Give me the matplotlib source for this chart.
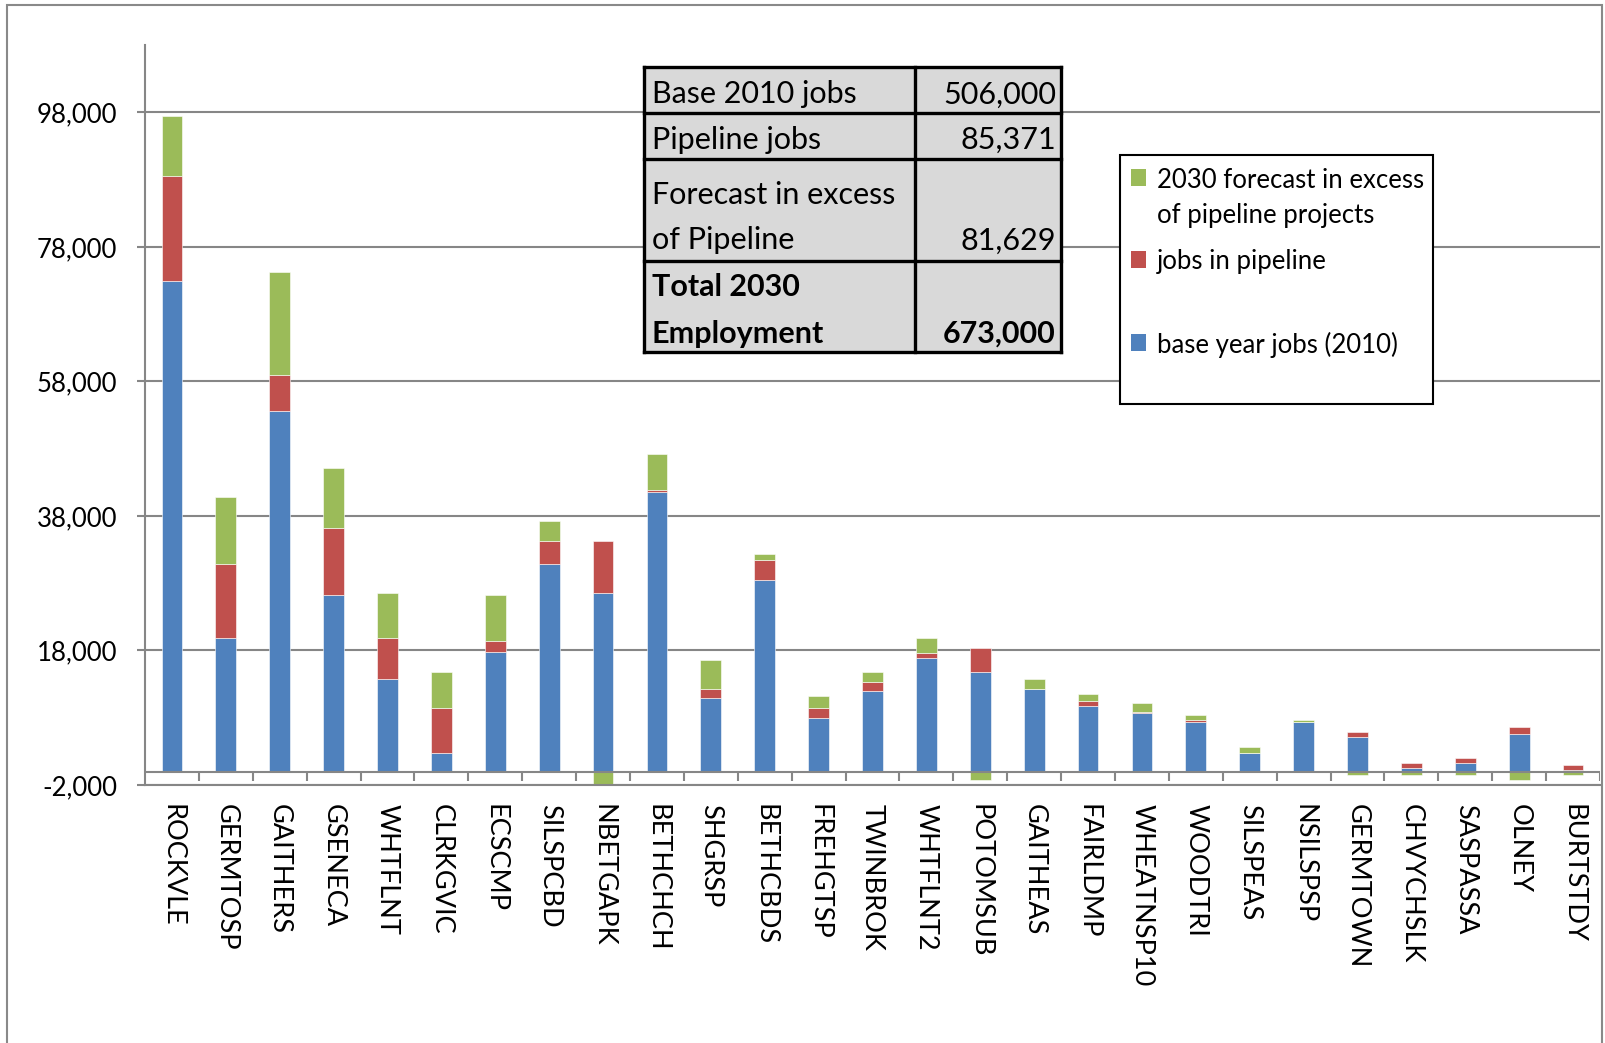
import numpy as np
import matplotlib.pyplot as plt
from matplotlib.patches import Rectangle
from matplotlib.ticker import FuncFormatter

plt.rcParams['font.family'] = ['Lato', 'DejaVu Sans']

# jobs by area: 2010 base, pipeline projects, remaining 2030 forecast
areas = ['ROCKVLE', 'GERMTOSP', 'GAITHERS', 'GSENECA', 'WHTFLNT', 'CLRKGVIC',
         'ECSCMP', 'SILSPCBD', 'NBETGAPK', 'BETHCHCH', 'SHGRSP', 'BETHCBDS',
         'FREHGTSP', 'TWINBROK', 'WHTFLNT2', 'POTOMSUB', 'GAITHEAS', 'FAIRLDMP',
         'WHEATNSP10', 'WOODTRI', 'SILSPEAS', 'NSILSPSP', 'GERMTOWN',
         'CHVYCHSLK', 'SASPASSA', 'OLNEY', 'BURTSTDY']
base_jobs = [72900, 19800, 53600, 26200, 13800, 2700, 17700, 30900, 26600,
             41500, 10900, 28400, 8000, 11900, 16900, 14800, 12200, 9800,
             8700, 7300, 2700, 7300, 5200, 500, 1200, 5600, 200]
pipeline_jobs = [15600, 11000, 5300, 10000, 6000, 6700, 1700, 3400, 7700,
                 300, 1300, 3100, 1400, 1400, 700, 3500, 100, 700,
                 100, 300, 0, 0, 700, 800, 800, 1000, 700]
excess_jobs = [8900, 10000, 15300, 8900, 6800, 5400, 6800, 2900, -1800,
               5400, 4400, 800, 1900, 1500, 2200, -1200, 1400, 1100,
               1400, 800, 1000, 400, -500, -500, -500, -1200, -500]

summary_labels = ['Base 2010 jobs', 'Pipeline jobs', 'Forecast in excess\nof Pipeline',
                  'Total 2030\nEmployment']
summary_values = ['506,000', '85,371', '81,629', '673,000']

legend_labels = ['2030 forecast in excess\nof pipeline projects', 'jobs in pipeline',
                 'base year jobs (2010)']

BLUE, RED, GREEN = '#4F81BD', '#C0504D', '#9BBB59'
GRID = '#868686'

W, H = 1606, 1043
fig = plt.figure(figsize=(W / 100, H / 100), dpi=100)
ax = fig.add_axes([145 / W, 1 - 785 / H, (1600 - 145) / W, (785 - 45) / H])

x = np.arange(len(areas))
base = np.array(base_jobs)
pipe = np.array(pipeline_jobs)
excess = np.array(excess_jobs)
bw = 0.385

ax.bar(x, base, bw, color=BLUE, edgecolor='white', linewidth=0.4, zorder=2)
ax.bar(x, pipe, bw, bottom=base, color=RED, edgecolor='white', linewidth=0.4, zorder=2)
# negative forecast values stack down from zero, like Excel does
ax.bar(x, excess, bw, bottom=np.where(excess >= 0, base + pipe, 0),
       color=GREEN, edgecolor='white', linewidth=0.4, zorder=2)

ax.set_xlim(-0.5, len(areas) - 0.5)
ax.set_ylim(-2000, 108000)
ax.set_yticks(np.arange(-2000, 98001, 20000))
ax.yaxis.set_major_formatter(FuncFormatter(lambda v, p: f'{v:,.0f}'))
ax.grid(axis='y', color=GRID, linewidth=1.5)
ax.set_axisbelow(True)

for s in ('top', 'right'):
    ax.spines[s].set_visible(False)
for s in ('left', 'bottom'):
    ax.spines[s].set_color(GRID)
    ax.spines[s].set_linewidth(1.5)

ax.tick_params(axis='y', length=6, width=1.5, color=GRID, pad=14, labelsize=18.5)
ax.set_xticks(x)
ax.set_xticklabels(areas, rotation=-90)
ax.tick_params(axis='x', length=0, pad=14, labelsize=19.5)

# category axis crossing at zero with tick marks between columns
ax.axhline(0, color=GRID, linewidth=1.5, zorder=3)
ax.vlines(np.arange(0.5, len(areas)), -1450, 0, color=GRID, linewidth=1.5, zorder=3)

# outer chart frame
fig.add_artist(Rectangle((7 / W, -0.05), (1602 - 7) / W, 1 - 4.5 / H + 0.05,
                         transform=fig.transFigure, fill=False,
                         edgecolor='#898989', linewidth=1.5))

# overlay in pixel units for the summary table and legend
ov = fig.add_axes([0, 0, 1, 1], zorder=5)
ov.set_xlim(0, W)
ov.set_ylim(H, 0)
ov.axis('off')
ov.patch.set_visible(False)

row_edges = [67, 113, 159, 261, 352]
col_edges = [644, 915, 1061]
line_baselines = [[103.5], [149], [204, 249.5], [295.5, 342.5]]
ov.add_patch(Rectangle((col_edges[0], row_edges[0]), col_edges[-1] - col_edges[0],
                       row_edges[-1] - row_edges[0], facecolor='#D9D9D9',
                       edgecolor='none'))
for yy in row_edges:
    ov.plot([col_edges[0], col_edges[-1]], [yy, yy], color='black', lw=2.4,
            solid_capstyle='projecting')
for xx in col_edges:
    ov.plot([xx, xx], [row_edges[0], row_edges[-1]], color='black', lw=2.4,
            solid_capstyle='projecting')
for i, (lab, val) in enumerate(zip(summary_labels, summary_values)):
    weight = 'bold' if i == len(summary_labels) - 1 else 'normal'
    for line, yb in zip(lab.split('\n'), line_baselines[i]):
        ov.text(652, yb, line, fontsize=22, va='baseline', ha='left', fontweight=weight)
    ov.text(1056, line_baselines[i][-1], val, fontsize=22, va='baseline', ha='right',
            fontweight=weight)

# legend box
ov.add_patch(Rectangle((1120, 155), 313, 249, facecolor='white', edgecolor='black',
                       linewidth=1.5))
swatches = [(GREEN, 169, [187.5, 223]), (RED, 251, [269]), (BLUE, 334, [352.5])]
for (col, ytop, bases), lab in zip(swatches, legend_labels):
    ov.add_patch(Rectangle((1131, ytop), 15, 17, facecolor=col, edgecolor='none'))
    for line, yb in zip(lab.split('\n'), bases):
        ov.text(1157, yb, line, fontsize=18.5, va='baseline', ha='left')

fig.savefig('out.png', dpi=100)
